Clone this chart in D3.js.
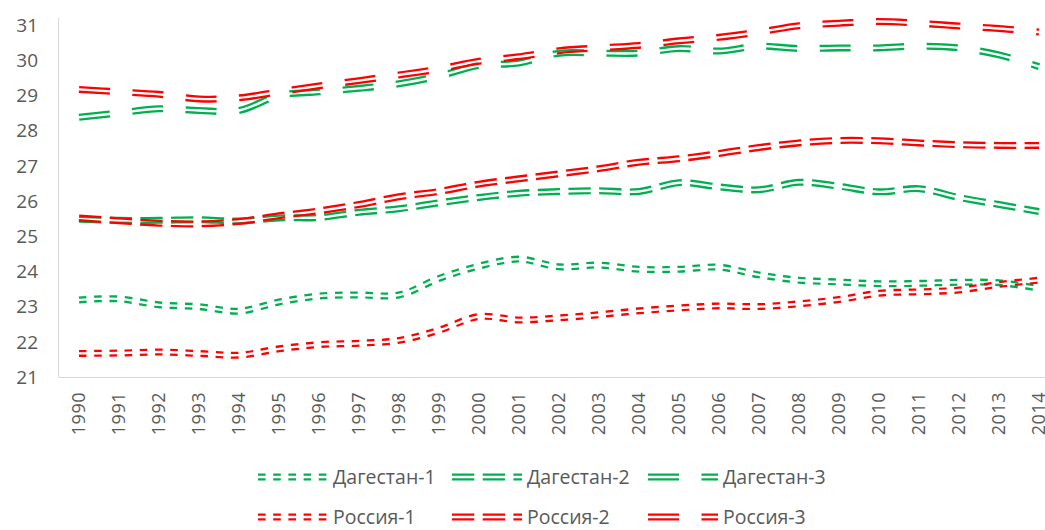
<!DOCTYPE html>
<html>
<head>
<meta charset="utf-8">
<script src="https://cdn.jsdelivr.net/npm/d3@7/dist/d3.min.js"></script>
<style>
    body { margin: 0; background: #fff; }
    .tickText { font-family: "Open Sans", "Noto Sans", sans-serif; fill: #595959; }
</style>
</head>
<body>
<div id="chart"></div>
<script>
/** ********************************
 *           Data
 ********************************** */

const years = [1990, 1991, 1992, 1993, 1994, 1995, 1996, 1997, 1998, 1999, 2000, 2001, 2002,
               2003, 2004, 2005, 2006, 2007, 2008, 2009, 2010, 2011, 2012, 2013, 2014];

const yTicks = [21, 22, 23, 24, 25, 26, 27, 28, 29, 30, 31];

const dagestan1 = [23.19, 23.22, 23.05, 23.00, 22.87, 23.13, 23.30, 23.33, 23.33, 23.80, 24.15, 24.35, 24.13,
                   24.18, 24.06, 24.06, 24.12, 23.90, 23.75, 23.70, 23.65, 23.66, 23.69, 23.68, 23.52];
const dagestan2 = [25.48, 25.45, 25.45, 25.47, 25.43, 25.52, 25.53, 25.68, 25.78, 25.95, 26.10, 26.22, 26.27,
                   26.29, 26.27, 26.52, 26.40, 26.32, 26.53, 26.42, 26.26, 26.35, 26.10, 25.90, 25.70];
const dagestan3 = [28.38, 28.50, 28.62, 28.57, 28.57, 29.00, 29.10, 29.20, 29.33, 29.55, 29.85, 29.92, 30.20,
                   30.20, 30.20, 30.33, 30.26, 30.40, 30.33, 30.35, 30.35, 30.40, 30.35, 30.15, 29.82];
const russia1   = [21.67, 21.68, 21.71, 21.67, 21.62, 21.80, 21.92, 21.96, 22.04, 22.33, 22.72, 22.62, 22.68,
                   22.77, 22.88, 22.96, 23.02, 23.00, 23.08, 23.20, 23.38, 23.42, 23.47, 23.63, 23.75];
const russia2   = [25.52, 25.44, 25.37, 25.35, 25.42, 25.58, 25.72, 25.90, 26.12, 26.27, 26.48, 26.63, 26.77,
                   26.92, 27.10, 27.20, 27.35, 27.52, 27.65, 27.72, 27.71, 27.65, 27.60, 27.58, 27.58];
const russia3   = [29.17, 29.10, 29.03, 28.90, 28.93, 29.10, 29.27, 29.42, 29.58, 29.75, 29.97, 30.10, 30.27,
                   30.35, 30.42, 30.55, 30.65, 30.80, 30.98, 31.05, 31.10, 31.05, 30.97, 30.90, 30.80];

const seriesNames = ["Дагестан-1", "Дагестан-2", "Дагестан-3", "Россия-1", "Россия-2", "Россия-3"];

// ============
//   Styles
// ============

const green = "#00b050";
const red = "#ff0000";

// dash pattern per series number (1, 2, 3)
const dashes = ["7.6,7.6", "22.3,8.4", "31,22.5"];

const lineWidth = 7;   // outer width of the double line
const gapWidth = 2.4;  // white gap between the two strokes

const series = [
    { name: seriesNames[0], values: dagestan1, color: green, dash: dashes[0] },
    { name: seriesNames[1], values: dagestan2, color: green, dash: dashes[1] },
    { name: seriesNames[2], values: dagestan3, color: green, dash: dashes[2] },
    { name: seriesNames[3], values: russia1,   color: red,   dash: dashes[0] },
    { name: seriesNames[4], values: russia2,   color: red,   dash: dashes[1] },
    { name: seriesNames[5], values: russia3,   color: red,   dash: dashes[2] }
];

// ============
//   Plot box
// ============

const svgWidth = 1045;
const svgHeight = 530;

const plot = { left: 59, right: 1059, top: 25, bottom: 377 };

const svg = d3.select("#chart")
    .append("svg")
        .attr("width", svgWidth)
        .attr("height", svgHeight);

const defs = svg.append("defs");

// Scales
const xScale = d3.scaleBand()
    .domain(years)
    .range([plot.left, plot.right]);

const xPos = year => xScale(year) + xScale.bandwidth() / 2;

const yScale = d3.scaleLinear()
    .domain([21, 31])
    .range([plot.bottom, plot.top]);

/** ********************************
 *            Axes
 ********************************** */

// Axis lines (light grey)
svg.append("line")
    .attr("x1", plot.left - 0.5).attr("x2", plot.left - 0.5)
    .attr("y1", plot.top - 7).attr("y2", plot.bottom)
    .attr("stroke", "#d9d9d9").attr("stroke-width", 1);

svg.append("line")
    .attr("x1", plot.left - 0.5).attr("x2", svgWidth)
    .attr("y1", plot.bottom + 0.5).attr("y2", plot.bottom + 0.5)
    .attr("stroke", "#d9d9d9").attr("stroke-width", 1);

// Y tick labels
svg.append("g")
    .selectAll("text")
    .data(yTicks)
    .join("text")
        .attr("class", "tickText")
        .attr("x", 38)
        .attr("y", d => yScale(d))
        .attr("dy", "0.36em")
        .attr("text-anchor", "end")
        .style("font-size", "19px")
        .text(d => d);

// X tick labels (rotated); the last one is cut by the right edge, as in the original
svg.append("g")
    .selectAll("text")
    .data(years)
    .join("text")
        .attr("class", "tickText")
        .attr("transform", d => `translate(${xPos(d)}, 392) rotate(-90)`)
        .attr("dy", "0.36em")
        .attr("text-anchor", "end")
        .style("font-size", "18px")
        .style("letter-spacing", "0.5px")
        .text(d => d);

/** ********************************
 *        Double dashed lines
 ********************************** */

const lineGen = d3.line()
    .x((d, i) => xPos(years[i]))
    .y(d => yScale(d))
    .curve(d3.curveCatmullRom.alpha(0.5));

/**
 * Draw a double (compound) dashed stroke: wide colored path with its centre cut out by a mask
 */
function drawDouble(parent, pathD, color, dash, id) {
    const mask = defs.append("mask")
        .attr("id", id)
        .attr("maskUnits", "userSpaceOnUse")
        .attr("x", 0).attr("y", 0)
        .attr("width", svgWidth).attr("height", svgHeight);

    mask.append("rect")
        .attr("width", svgWidth).attr("height", svgHeight)
        .attr("fill", "white");

    mask.append("path")
        .attr("d", pathD)
        .attr("fill", "none")
        .attr("stroke", "black")
        .attr("stroke-width", gapWidth);

    parent.append("path")
        .attr("d", pathD)
        .attr("fill", "none")
        .attr("stroke", color)
        .attr("stroke-width", lineWidth)
        .attr("stroke-dasharray", dash)
        .attr("mask", `url(#${id})`);
}

const linesGroup = svg.append("g");

series.forEach((s, i) => {
    drawDouble(linesGroup, lineGen(s.values), s.color, s.dash, `m${i}`);
});

/** ********************************
 *            Legend
 ********************************** */

const legendCols = [258, 452, 648];
const legendRows = [477, 517];
const sampleLen = 70;

const legend = svg.append("g");

series.forEach((s, i) => {
    const lx = legendCols[i % 3];
    const ly = legendRows[Math.floor(i / 3)];

    drawDouble(legend, `M${lx},${ly}L${lx + sampleLen},${ly}`, s.color, s.dash, `lg${i}`);

    legend.append("text")
        .attr("class", "tickText")
        .attr("x", lx + sampleLen + 5)
        .attr("y", ly)
        .attr("dy", "0.36em")
        .style("font-size", "19.5px")
        .text(s.name);
});
</script>
</body>
</html>
